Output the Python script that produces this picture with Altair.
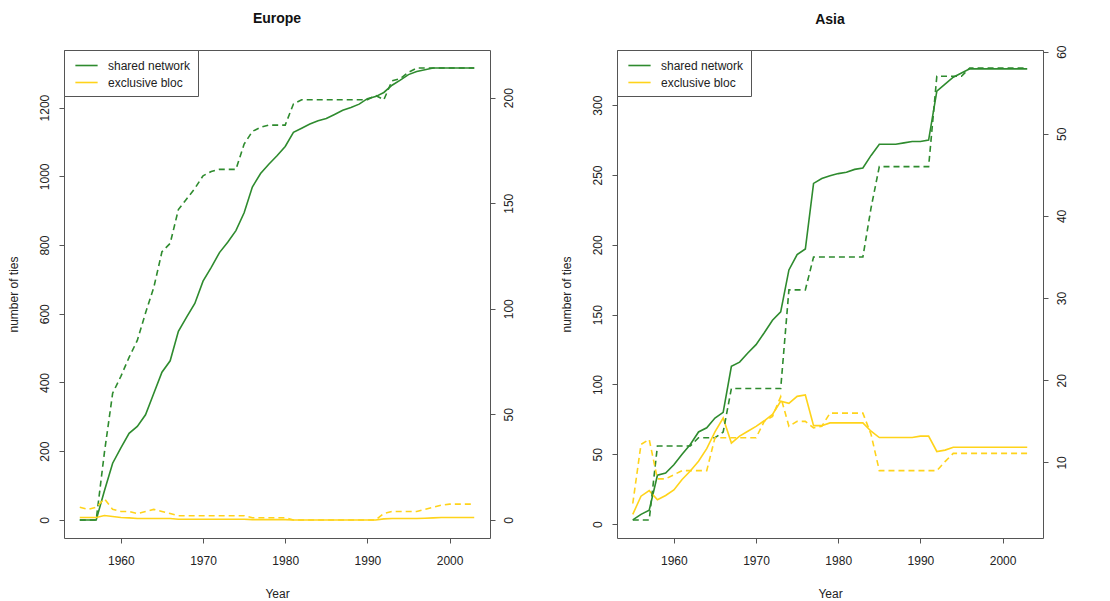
import altair as alt
import pandas as pd

years = list(range(1955, 2004))
series_names = ["shared network", "exclusive bloc"]
series_colors = ["#2E8B2E", "#FFD31A"]

# Europe: left axis (number of ties, solid) and right axis (dashed)
eu_shared_ties = [0, 0, 0, 85, 165, 210, 252, 272, 306, 368, 430, 463, 549, 590, 630, 695, 735, 778, 808, 842,
                  894, 969, 1008, 1035, 1060, 1087, 1128, 1140, 1152, 1162, 1168, 1180, 1192, 1200, 1210, 1226,
                  1232, 1244, 1265, 1280, 1296, 1305, 1310, 1315, 1315, 1315, 1315, 1315, 1315]
eu_bloc_ties = [7, 7, 7, 13, 10, 7, 6, 4, 4, 4, 4, 4, 2, 2, 2, 2, 2, 2, 2, 2,
                2, 1, 1, 1, 1, 1, 0, 0, 0, 0, 0, 0, 0, 0, 0, 0,
                0, 3, 4, 4, 4, 4, 5, 6, 7, 7, 7, 7, 7]
eu_shared_other = [0, 0, 0, 32, 60, 68, 77, 85, 98, 110, 127, 131, 147, 152, 157, 163, 165, 166, 166, 166,
                   178, 184, 186, 187, 187, 187, 197, 199, 199, 199, 199, 199, 199, 199, 199, 199,
                   201, 199, 208, 209, 212, 214, 214, 214, 214, 214, 214, 214, 214]
eu_bloc_other = [6, 5, 6, 10, 5, 4, 4, 3, 4, 5, 4, 3, 2, 2, 2, 2, 2, 2, 2, 2,
                 2, 1, 1, 1, 1, 1, 0, 0, 0, 0, 0, 0, 0, 0, 0, 0,
                 0, 3, 4, 4, 4, 4, 5, 6, 7, 7.5, 7.5, 7.5, 7.5]

# Asia
as_shared_ties = [3, 7, 10, 35, 36.5, 42.5, 50, 57, 66, 69, 76, 80, 113, 116, 122.5, 128.5, 137, 146, 152, 182,
                  193, 197, 244, 247.5, 249.5, 251, 252, 254, 255, 264, 272, 272, 272, 273, 274, 274,
                  275, 310, 315, 320, 323, 326, 326, 326, 326, 326, 326, 326, 326]
as_bloc_ties = [7, 20, 24, 17.5, 20.5, 24.5, 32, 38, 45, 54, 66, 76, 58, 63, 66.5, 70, 74, 78.5, 88, 86.5,
                91.5, 92.5, 70.5, 70.5, 72.5, 72.5, 72.5, 72.5, 72.5, 66.5, 62, 62, 62, 62, 62, 63,
                63, 52, 53, 55, 55, 55, 55, 55, 55, 55, 55, 55, 55]
as_shared_other = [3, 3, 3, 12, 12, 12, 12, 12, 13, 13, 13, 13.7, 19, 19, 19, 19, 19, 19, 19, 31,
                   31, 31, 35, 35, 35, 35, 35, 35, 35, 41, 46, 46, 46, 46, 46, 46,
                   46, 57, 57, 57, 57, 58, 58, 58, 58, 58, 58, 58, 58]
as_bloc_other = [5, 12.2, 12.8, 8, 8, 8.5, 9, 9, 9, 9, 13, 13, 13, 13, 13, 13, 15, 15.6, 18, 14.4,
                 15, 15, 14.2, 14.4, 16, 16, 16, 16, 16, 13.4, 9, 9, 9, 9, 9, 9,
                 9, 9, 10.1, 11.1, 11.1, 11.1, 11.1, 11.1, 11.1, 11.1, 11.1, 11.1, 11.1]

x_ticks = [1960, 1970, 1980, 1990, 2000]
FONT = "Liberation Sans"


def make_df(shared_ties, bloc_ties, shared_other, bloc_other):
    rows = []
    for name, t, o in [(series_names[0], shared_ties, shared_other),
                       (series_names[1], bloc_ties, bloc_other)]:
        for y, a, b in zip(years, t, o):
            rows.append({"year": y, "series": name, "ties": a, "other": b})
    return pd.DataFrame(rows)


def panel(df, title, left_dom, left_ticks, right_dom, right_ticks, title_offset):
    base = alt.Chart(df)
    x = alt.X("year:Q",
              scale=alt.Scale(domain=[1953.08, 2004.92], nice=False, zero=False),
              axis=alt.Axis(values=x_ticks, format="d", title="Year"))
    color = alt.Color("series:N",
                      scale=alt.Scale(domain=series_names, range=series_colors),
                      sort=series_names,
                      legend=alt.Legend(title=None, orient="none", legendX=0, legendY=0,
                                        fillColor="white", strokeColor="#555", padding=7,
                                        symbolType="M-1.5,0H1.5", symbolSize=220,
                                        symbolStrokeWidth=1.6, symbolOffset=7,
                                        labelFont=FONT, labelFontSize=12, labelColor="#222",
                                        labelOffset=13, rowPadding=2))
    solid = base.mark_line(strokeWidth=1.6).encode(
        x=x,
        y=alt.Y("ties:Q",
                scale=alt.Scale(domain=left_dom, nice=False, zero=False),
                axis=alt.Axis(orient="left", values=left_ticks, format="d", title="number of ties")),
        color=color,
    )
    dashed = base.mark_line(strokeWidth=1.6, strokeDash=[6, 4]).encode(
        x=x,
        y=alt.Y("other:Q",
                scale=alt.Scale(domain=right_dom, nice=False, zero=False),
                axis=alt.Axis(orient="right", values=right_ticks, format="d", title=None)),
        color=color,
    )
    return alt.layer(solid, dashed).resolve_scale(y="independent").properties(
        width=426, height=488,
        title=alt.TitleParams(title, font=FONT, fontSize=14, fontWeight="bold",
                              anchor="middle", offset=title_offset, color="#111"))


eu = panel(make_df(eu_shared_ties, eu_bloc_ties, eu_shared_other, eu_bloc_other), "Europe",
           [-52.6, 1367.6], [0, 200, 400, 600, 800, 1000, 1200],
           [-8.56, 222.56], [0, 50, 100, 150, 200], 24)
asia = panel(make_df(as_shared_ties, as_bloc_ties, as_shared_other, as_bloc_other), "Asia",
             [-9.94, 339.5], [0, 50, 100, 150, 200, 250, 300],
             [0.8, 60.2], [10, 20, 30, 40, 50, 60], 18)

chart = alt.hconcat(eu, asia, spacing=44).resolve_scale(
    color="independent"
).resolve_legend(
    color="independent"
).properties(
    padding={"left": 6, "top": 11, "right": 5, "bottom": 0}
).configure_view(
    stroke="#555", strokeWidth=1
).configure_axis(
    grid=False, domain=False, tickColor="#555", tickSize=5, tickWidth=1,
    labelFont=FONT, labelFontSize=12, labelColor="#222",
    titleFont=FONT, titleFontSize=12, titleFontWeight="normal", titleColor="#222",
).configure_axisBottom(
    labelPadding=12, titlePadding=22
).configure_axisLeft(
    labelAngle=-90, labelAlign="center", labelBaseline="bottom", labelPadding=8, titlePadding=18
).configure_axisRight(
    labelAngle=-90, labelAlign="center", labelBaseline="top", labelPadding=8
)

chart.save("out.html", embed_options={"renderer": "svg", "actions": False})
